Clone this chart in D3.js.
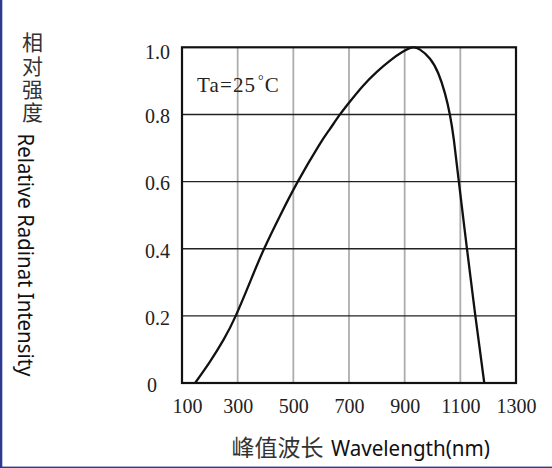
<!DOCTYPE html>
<html>
<head>
<meta charset="utf-8">
<script src="https://cdn.jsdelivr.net/npm/d3@7"></script>
<style>
  body { margin: 0; background: #fff; }
  svg { display: block; }
</style>
</head>
<body>
<svg id="chart"></svg>
<script>
// curve
const wavelengths = [147, 200, 250, 293, 345, 395, 455, 516, 590, 630, 665, 700, 750, 800, 850, 890, 925, 955, 991, 1021, 1045, 1063, 1077, 1094, 1124, 1154, 1186];
const intensities = [0, 0.063, 0.13, 0.2, 0.302, 0.4, 0.503, 0.6, 0.705, 0.755, 0.797, 0.835, 0.885, 0.927, 0.962, 0.985, 0.999, 0.993, 0.966, 0.922, 0.862, 0.797, 0.723, 0.604, 0.399, 0.2, 0];
const xTicks = [100, 300, 500, 700, 900, 1100, 1300];
const yTicks = [0, 0.2, 0.4, 0.6, 0.8, 1.0];

const width = 552, height = 468;
const margin = { top: 47.3, right: 36, bottom: 85, left: 182 };

const svg = d3.select("#chart").attr("width", width).attr("height", height);

const x = d3.scaleLinear().domain([100, 1300]).range([margin.left, width - margin.right]);
const y = d3.scaleLinear().domain([0, 1]).range([height - margin.bottom, margin.top]);

// blue edge of the original image
svg.append("rect").attr("x", 0).attr("y", 0).attr("width", 2.3).attr("height", height).attr("fill", "#2e3a90");
svg.append("rect").attr("x", 0).attr("y", 466.6).attr("width", width).attr("height", 1.4).attr("fill", "#2e3a90");

// vertical grid (grey)
svg.append("g")
  .selectAll("line")
  .data(xTicks.slice(1, -1))
  .join("line")
  .attr("x1", d => x(d)).attr("x2", d => x(d))
  .attr("y1", y(1)).attr("y2", y(0))
  .attr("stroke", "#adadad")
  .attr("stroke-width", 1.8);

// horizontal grid (dark)
svg.append("g")
  .selectAll("line")
  .data(yTicks.slice(1, -1))
  .join("line")
  .attr("x1", x(100)).attr("x2", x(1300))
  .attr("y1", d => y(d)).attr("y2", d => y(d))
  .attr("stroke", "#222")
  .attr("stroke-width", 1.4);

// frame
svg.append("rect")
  .attr("x", x(100)).attr("y", y(1))
  .attr("width", x(1300) - x(100)).attr("height", y(0) - y(1))
  .attr("fill", "none")
  .attr("stroke", "#111")
  .attr("stroke-width", 2.2);

// spectrum curve
const line = d3.line()
  .x((d, i) => x(wavelengths[i]))
  .y(d => y(d))
  .curve(d3.curveNatural);

svg.append("path")
  .datum(intensities)
  .attr("fill", "none")
  .attr("stroke", "#111")
  .attr("stroke-width", 2.3)
  .attr("d", line);

// axes
const serif = "'Liberation Serif', 'Times New Roman', serif";

const xAxis = svg.append("g")
  .attr("transform", `translate(0, ${y(0)})`)
  .call(d3.axisBottom(x).tickValues(xTicks).tickSize(0).tickPadding(16).tickFormat(d3.format("d")));
xAxis.select(".domain").remove();
xAxis.selectAll("text")
  .attr("fill", "#222")
  .style("font-family", serif)
  .style("font-size", "20px");
xAxis.selectAll(".tick").filter(d => d === 100).select("text").attr("dx", 5);

const yAxis = svg.append("g")
  .attr("transform", `translate(${x(100)}, 0)`)
  .call(d3.axisLeft(y).tickValues(yTicks).tickSize(0).tickPadding(12)
    .tickFormat(d => d === 0 ? "0" : d3.format(".1f")(d)));
yAxis.select(".domain").remove();
yAxis.selectAll("text")
  .attr("fill", "#222")
  .attr("dy", "0.42em")
  .style("font-family", serif)
  .style("font-size", "20px");
yAxis.selectAll(".tick").filter(d => d === 0).select("text").attr("dx", -13);
yAxis.selectAll(".tick").filter(d => d === 1).select("text").attr("dy", "0.55em");

// annotation: Ta=25°C with raised degree sign
const note = svg.append("text")
  .attr("x", 197)
  .attr("y", 92)
  .attr("fill", "#222")
  .style("font-family", serif)
  .style("font-size", "21px");
note.append("tspan").attr("textLength", 58).text("Ta=25");
note.append("tspan").attr("dx", 2).attr("dy", -7).style("font-size", "14px").text("°");
note.append("tspan").attr("dx", 1).attr("dy", 7).text("C");

// y title: vertical CJK + rotated English
const cjk = "'Noto Sans CJK SC', sans-serif";
const sans = "'Noto Sans', 'Open Sans', sans-serif";

svg.append("text")
  .attr("x", 32.5)
  .attr("y", 32)
  .attr("fill", "#333")
  .style("writing-mode", "vertical-rl")
  .style("letter-spacing", "2.2px")
  .style("font-family", cjk)
  .style("font-size", "21px")
  .text("相对强度");

svg.append("text")
  .attr("transform", "translate(18, 133.5) rotate(90)")
  .attr("fill", "#111")
  .attr("textLength", 243)
  .attr("lengthAdjust", "spacingAndGlyphs")
  .style("font-family", sans)
  .style("font-size", "21px")
  .text("Relative Radinat Intensity");

// x title
svg.append("text")
  .attr("x", 231.5)
  .attr("y", 456)
  .attr("fill", "#333")
  .style("font-family", cjk)
  .style("font-size", "23px")
  .text("峰值波长");

svg.append("text")
  .attr("x", 331)
  .attr("y", 456)
  .attr("fill", "#111")
  .attr("textLength", 159)
  .attr("lengthAdjust", "spacingAndGlyphs")
  .style("font-family", sans)
  .style("font-size", "21px")
  .text("Wavelength(nm)");
</script>
</body>
</html>
